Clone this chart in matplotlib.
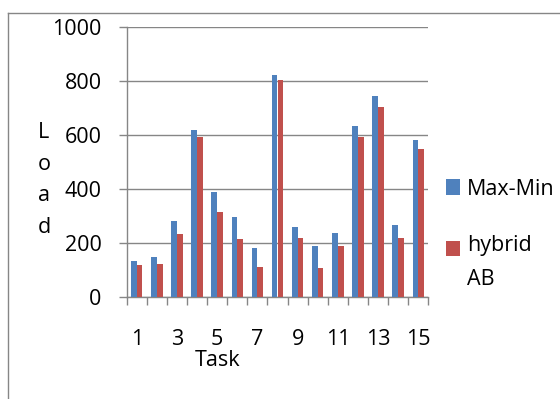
import matplotlib
matplotlib.use("Agg")
import matplotlib.pyplot as plt
from matplotlib.lines import Line2D
from matplotlib.patches import Rectangle
from matplotlib.container import BarContainer
from matplotlib.legend_handler import HandlerPatch, update_from_first_child
import numpy as np

plt.rcParams['font.family'] = ['Open Sans', 'DejaVu Sans']

tasks = list(range(1, 16))
max_min = [133, 148, 280, 620, 389, 297, 179, 823, 258, 187, 235, 633, 744, 268, 582]
hybrid_ab = [118, 123, 233, 591, 316, 214, 110, 805, 218, 108, 188, 591, 705, 218, 548]
series_names = ["Max-Min", "hybrid\nAB"]
y_ticks = [0, 200, 400, 600, 800, 1000]
x_labels = ["1", "3", "5", "7", "9", "11", "13", "15"]

blue = "#4F81BD"
red = "#C0504D"
grey = "#868686"
fs = 15.5

W, H = 560, 399
fig = plt.figure(figsize=(W / 100, H / 100), dpi=100)
ax = fig.add_axes([126.7 / W, 1 - 296.7 / H, 301.6 / W, 269.4 / H])

x = np.array(tasks, dtype=float)
bw = 1 / 3.5
ax.bar(x - bw / 2, max_min, width=bw, color=blue, label=series_names[0], zorder=3)
ax.bar(x + bw / 2, hybrid_ab, width=bw, color=red, label=series_names[1], zorder=3)

ax.set_xlim(0.5, 15.5)
ax.set_ylim(0, 1000)

# y axis
ax.set_yticks(y_ticks)
ax.set_yticklabels([str(v) for v in y_ticks], fontsize=fs)
ax.tick_params(axis='y', direction='out', length=5.5, width=1, color=grey, pad=12.5)
ax.yaxis.grid(True, color=grey, linewidth=1, zorder=0)
ax.set_axisbelow(True)

# x axis: boundary ticks without labels, labels on odd categories
ax.set_xticks(np.arange(0.5, 16, 1.0))
ax.set_xticklabels([])
ax.tick_params(axis='x', which='major', direction='out', length=5.5, width=1, color=grey)
ax.set_xticks([int(s) for s in x_labels], minor=True)
ax.set_xticklabels(x_labels, minor=True, fontsize=fs)
ax.tick_params(axis='x', which='minor', length=0, pad=23)

for s in ['top', 'right']:
    ax.spines[s].set_visible(False)
for s in ['left', 'bottom']:
    ax.spines[s].set_color(grey)
    ax.spines[s].set_linewidth(1)

ax.set_xlabel("Task", fontsize=fs, va='baseline')
ax.xaxis.set_label_coords(0.3, -(366 - 296.7) / 269.4)

# stacked y label
fig.text(44 / W, 1 - 122 / H, "L\no\na\nd", fontsize=fs, ha='center', va='top',
         linespacing=1.67, multialignment='center')

# legend: square handle lined up with the first line of its label
label_step_pt = 21.6


def square_handle(legend, orig_handle, xdescent, ydescent, width, height, fontsize):
    n_lines = orig_handle.get_label().count("\n") + 1
    shift = (n_lines - 1) * label_step_pt / 2
    return Rectangle((-xdescent, -ydescent + shift), width, height)


leg = ax.legend(loc='upper left', bbox_to_anchor=(446 / W, 1 - 178.5 / H),
                bbox_transform=fig.transFigure, frameon=False, fontsize=fs,
                handlelength=0.67, handleheight=0.70, handletextpad=0.3,
                labelspacing=1.65, borderpad=0, borderaxespad=0,
                handler_map={BarContainer: HandlerPatch(patch_func=square_handle,
                                                        update_func=update_from_first_child)})
for t in leg.get_texts():
    t.set_linespacing(1.84)

# outer chart border
fig.add_artist(Line2D([8.3 / W, 1.01], [1 - 12.7 / H] * 2, color=grey, lw=1,
                      transform=fig.transFigure))
fig.add_artist(Line2D([8.3 / W] * 2, [1 - 12.7 / H, -0.01], color=grey, lw=1,
                      transform=fig.transFigure))

fig.savefig("out.png", dpi=100)
